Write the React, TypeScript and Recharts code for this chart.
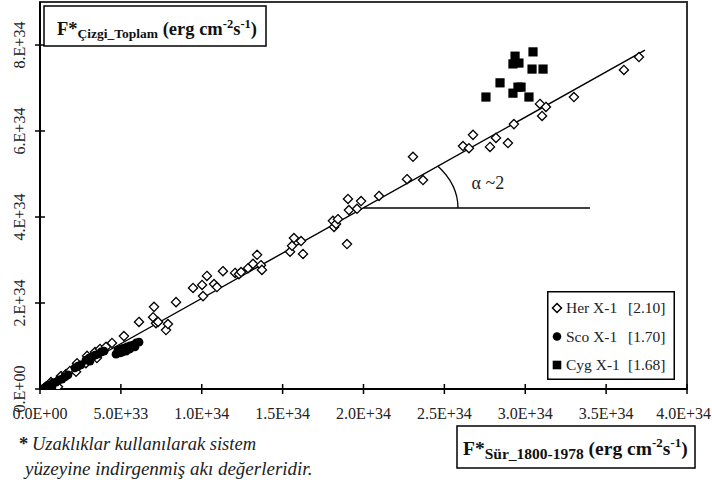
import React from 'react';
import {
  ScatterChart,
  Scatter,
  XAxis,
  YAxis,
  ReferenceLine,
  ReferenceDot,
  ReferenceArea,
  Legend,
} from 'recharts';

const FONT = "'Liberation Serif', 'Times New Roman', Times, serif";
const serif = { fontFamily: FONT };

// Fluxes in units of 1E34 erg cm^-2 s^-1: [F*Sür_1800-1978, F*Çizgi_Toplam]
const herX1: [number, number][] = [
  [0.025, 0.02], [0.037, 0.05], [0.068, 0.16], [0.105, 0.16], [0.111, 0.05],
  [0.13, 0.3], [0.161, 0.35], [0.185, 0.42], [0.223, 0.4], [0.229, 0.6],
  [0.284, 0.6], [0.291, 0.77], [0.34, 0.86], [0.352, 0.72], [0.371, 0.93],
  [0.408, 0.98], [0.445, 1.07], [0.519, 1.23], [0.612, 1.56], [0.699, 1.67],
  [0.705, 1.91], [0.717, 1.53], [0.73, 1.56], [0.779, 1.37], [0.791, 1.51],
  [0.841, 2.02], [0.946, 2.35], [1.002, 2.42], [1.008, 2.16], [1.032, 2.63],
  [1.076, 2.44], [1.094, 2.37], [1.131, 2.74], [1.206, 2.7], [1.23, 2.67],
  [1.243, 2.72], [1.286, 2.81], [1.317, 2.91], [1.342, 3.12], [1.366, 2.88],
  [1.372, 2.77], [1.546, 3.19], [1.558, 3.33], [1.57, 3.51], [1.614, 3.44],
  [1.626, 3.14], [1.811, 3.91], [1.818, 3.77], [1.83, 3.84], [1.842, 3.95],
  [1.898, 3.37], [1.904, 4.42], [1.91, 4.16], [1.96, 4.19], [1.985, 4.37],
  [2.096, 4.49], [2.269, 4.88], [2.306, 5.4], [2.368, 4.86], [2.615, 5.65],
  [2.652, 5.6], [2.677, 5.91], [2.782, 5.63], [2.819, 5.84], [2.893, 5.72],
  [2.93, 6.16], [3.091, 6.63], [3.104, 6.35], [3.128, 6.56], [3.301, 6.79],
  [3.61, 7.42], [3.703, 7.72],
];

const scoX1: [number, number][] = [
  [0.025, 0.02], [0.043, 0.07], [0.049, 0.02], [0.062, 0.09], [0.074, 0.05],
  [0.08, 0.14], [0.099, 0.16], [0.117, 0.21], [0.136, 0.23], [0.155, 0.28],
  [0.173, 0.33], [0.216, 0.49], [0.235, 0.53], [0.253, 0.56], [0.284, 0.67],
  [0.303, 0.72], [0.309, 0.65], [0.321, 0.74], [0.34, 0.79], [0.359, 0.81],
  [0.377, 0.86], [0.396, 0.88], [0.47, 0.81], [0.482, 0.91], [0.495, 0.84],
  [0.501, 0.93], [0.507, 0.86], [0.519, 0.95], [0.532, 0.88], [0.538, 0.98],
  [0.556, 1.0], [0.556, 0.93], [0.575, 1.02], [0.587, 0.98], [0.594, 1.07],
  [0.612, 1.09],
];

const cygX1: [number, number][] = [
  [3.048, 7.84], [2.937, 7.74], [2.961, 7.58], [2.924, 7.56], [3.042, 7.44],
  [3.11, 7.44], [2.844, 7.12], [2.955, 7.02], [2.974, 7.02], [2.924, 6.88],
  [3.023, 6.79], [2.757, 6.79],
];

// Fitted power-law line and the horizontal base of the slope angle
const trendLine: [number, number][] = [[0, 0], [3.74, 7.88]];
const angleBase: [number, number][] = [[2.0, 4.21], [3.4, 4.21]];

const xTicks = [0, 0.5, 1, 1.5, 2, 2.5, 3, 3.5, 4];
const xTickLabels = ['0.0E+00', '5.0E+33', '1.0E+34', '1.5E+34', '2.0E+34', '2.5E+34', '3.0E+34', '3.5E+34', '4.0E+34'];
const yTicks = [0, 2, 4, 6, 8];
const yTickLabels = ['0.E+00', '2.E+34', '4.E+34', '6.E+34', '8.E+34'];

const seriesNames = ['Her X-1', 'Sco X-1', 'Cyg X-1'];
const seriesSlopes = ['[2.10]', '[1.70]', '[1.68]'];

const toPoints = (rows: [number, number][]) => rows.map(([x, y]) => ({ x, y }));

const Diamond = (props: any) => {
  const { cx, cy } = props;
  const h = 4.6;
  return (
    <path
      d={`M${cx},${cy - h}L${cx + h},${cy}L${cx},${cy + h}L${cx - h},${cy}Z`}
      fill="#fff"
      stroke="#000"
      strokeWidth={1.3}
    />
  );
};

const Dot = (props: any) => <circle cx={props.cx} cy={props.cy} r={4.4} fill="#000" />;

const Square = (props: any) => (
  <rect x={props.cx - 4.6} y={props.cy - 4.6} width={9.2} height={9.2} fill="#000" />
);

const XTick = (props: any) => {
  const { x, y, index } = props;
  const last = index === xTickLabels.length - 1;
  return (
    <g>
      <line x1={x} x2={x} y1={y - 5} y2={y + 5} stroke="#000" strokeWidth={1.5} />
      <text
        x={last ? x + 24 : x}
        y={y + 30}
        textAnchor={last ? 'end' : 'middle'}
        style={serif}
        fontSize={16}
        fill="#222"
      >
        {xTickLabels[index]}
      </text>
    </g>
  );
};

const YTick = (props: any) => {
  const { x, y, index } = props;
  return (
    <g>
      <line x1={x - 5} x2={x + 5} y1={y} y2={y} stroke="#000" strokeWidth={1.5} />
      <text
        x={x - 15}
        y={y}
        transform={`rotate(-90 ${x - 15} ${y})`}
        textAnchor="middle"
        style={serif}
        fontSize={16}
        fill="#222"
      >
        {yTickLabels[index]}
      </text>
    </g>
  );
};

// Elliptical arc marking the slope angle, with its label
const AngleArc = (props: any) => {
  const { cx, cy } = props;
  if (cx == null || cy == null) return null;
  return (
    <g>
      <path
        d={`M${cx + 94.5},${cy} A94.5,68 0 0,0 ${cx + 74.5},${cy - 41.7}`}
        fill="none"
        stroke="#000"
        strokeWidth={1.3}
      />
      <text x={cx + 108} y={cy - 19} style={serif} fontSize={18} fill="#222">
        α ~2
      </text>
    </g>
  );
};

const legendSymbols = [
  (x: number, y: number) => (
    <path d={`M${x},${y - 4.5}L${x + 4.5},${y}L${x},${y + 4.5}L${x - 4.5},${y}Z`} fill="#fff" stroke="#000" strokeWidth={1.5} />
  ),
  (x: number, y: number) => <circle cx={x} cy={y} r={4.3} fill="#000" />,
  (x: number, y: number) => <rect x={x - 4.3} y={y - 4.3} width={8.6} height={8.6} fill="#000" />,
];

const LegendBox = () => (
  <svg width={128} height={89} style={{ display: 'block' }}>
    <rect x={0.75} y={0.75} width={126.5} height={87.5} fill="#fff" stroke="#000" strokeWidth={1.5} />
    {seriesNames.map((name, i) => {
      const cy = 17 + i * 28.5;
      return (
        <g key={name}>
          {legendSymbols[i](10, cy)}
          <text x={19} y={cy + 5} style={serif} fontSize={15.5} fill="#222">
            {name}
          </text>
          <text x={81} y={cy + 5} style={serif} fontSize={15.5} fill="#222">
            {seriesSlopes[i]}
          </text>
        </g>
      );
    })}
  </svg>
);

export default function App() {
  return (
    <div style={{ position: 'absolute', left: 0, top: 0, width: 712, height: 484, background: '#fff', fontFamily: FONT }}>
      <ScatterChart width={712} height={484} margin={{ top: 2, right: 25, bottom: 65, left: 0 }}>
        <XAxis
          type="number"
          dataKey="x"
          domain={[0, 4]}
          ticks={xTicks}
          interval={0}
          height={30}
          tickSize={0}
          tickMargin={0}
          tickLine={false}
          tick={<XTick />}
          axisLine={{ stroke: '#000', strokeWidth: 2 }}
          allowDataOverflow
        />
        <YAxis
          type="number"
          dataKey="y"
          domain={[0, 9]}
          ticks={yTicks}
          interval={0}
          width={40}
          tickSize={0}
          tickMargin={0}
          tickLine={false}
          tick={<YTick />}
          axisLine={{ stroke: '#000', strokeWidth: 2 }}
          allowDataOverflow
        />
        <ReferenceArea x1={0} x2={4} y1={0} y2={9} fill="none" stroke="#333" strokeWidth={2} />
        <ReferenceLine
          segment={trendLine.map(([x, y]) => ({ x, y }))}
          stroke="#000"
          strokeWidth={1.4}
        />
        <ReferenceLine
          segment={angleBase.map(([x, y]) => ({ x, y }))}
          stroke="#000"
          strokeWidth={1.4}
        />
        <ReferenceDot x={angleBase[0][0]} y={angleBase[0][1]} r={0} shape={<AngleArc />} />
        <Scatter name={seriesNames[0]} data={toPoints(herX1)} shape={<Diamond />} isAnimationActive={false} />
        <Scatter name={seriesNames[1]} data={toPoints(scoX1)} shape={<Dot />} isAnimationActive={false} />
        <Scatter name={seriesNames[2]} data={toPoints(cygX1)} shape={<Square />} isAnimationActive={false} />
        <Legend
          layout="vertical"
          align="center"
          verticalAlign="middle"
          content={<LegendBox />}
          wrapperStyle={{ left: 547, top: 291, width: 128, height: 89 }}
        />
      </ScatterChart>
      <svg
        width={712}
        height={484}
        style={{ position: 'absolute', left: 0, top: 0, pointerEvents: 'none' }}
      >
        {/* y-axis title */}
        <rect x={44} y={6} width={222} height={40} fill="#fff" stroke="#000" strokeWidth={1.5} />
        <text x={57} y={35} style={serif} fontWeight="bold" fontSize={18.5} fill="#111">
          F*
          <tspan fontSize={13.5} dy={3}>Çizgi_Toplam</tspan>
          <tspan dy={-3}>{' (erg cm'}</tspan>
          <tspan fontSize={12.5} dy={-7}>-2</tspan>
          <tspan dy={7}>s</tspan>
          <tspan fontSize={12.5} dy={-7}>-1</tspan>
          <tspan dy={7}>)</tspan>
        </text>
        {/* x-axis title */}
        <rect x={457} y={426} width={238} height={42} fill="#fff" stroke="#000" strokeWidth={1.5} />
        <text x={463} y={455} style={serif} fontWeight="bold" fontSize={19.5} fill="#111">
          F*
          <tspan fontSize={15.5} dy={4}>Sür_1800-1978</tspan>
          <tspan dy={-4}>{' (erg cm'}</tspan>
          <tspan fontSize={13} dy={-8}>-2</tspan>
          <tspan dy={8}>s</tspan>
          <tspan fontSize={13} dy={-8}>-1</tspan>
          <tspan dy={8}>)</tspan>
        </text>
        {/* footnote */}
        <text x={19} y={450} style={serif} fontSize={18.5} fill="#222">
          <tspan fontWeight="bold">*</tspan>
          <tspan fontStyle="italic" x={32}>Uzaklıklar kullanılarak sistem</tspan>
        </text>
        <text x={25} y={475} style={serif} fontSize={19} fontStyle="italic" fill="#222">
          yüzeyine indirgenmiş akı değerleridir.
        </text>
      </svg>
    </div>
  );
}
